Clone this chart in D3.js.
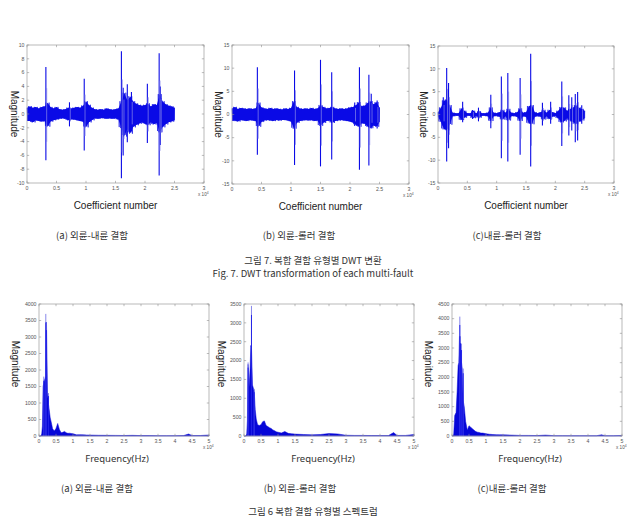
<!DOCTYPE html>
<html><head><meta charset="utf-8">
<script src="https://cdn.jsdelivr.net/npm/d3@7/dist/d3.min.js"></script>
<style>
html,body{margin:0;padding:0;background:#fff;}
svg{display:block;}
</style></head>
<body>
<svg id="chart" width="627" height="518"></svg>
<script>
// ---------------- DATA ----------------
// DWT panels: band envelope sampled every 0.05 (x 10^4 coefficients), 0 .. 2.5
const dwtGrid = [0,0.05,0.1,0.15,0.2,0.25,0.3,0.35,0.4,0.45,0.5,0.55,0.6,0.65,0.7,0.75,0.8,0.85,0.9,0.95,1.0,1.05,1.1,1.15,1.2,1.25,1.3,1.35,1.4,1.45,1.5,1.55,1.6,1.65,1.7,1.75,1.8,1.85,1.9,1.95,2.0,2.05,2.1,2.15,2.2,2.25,2.3,2.35,2.4,2.45,2.5];

const dwtAHi = [0.9,1.1,0.9,1.0,0.8,1.0,1.1,1.6,1.0,0.8,1.0,0.7,0.6,0.7,0.9,0.8,0.9,1.0,0.9,1.2,1.8,1.3,0.9,0.7,0.6,0.7,0.6,0.8,0.7,0.6,0.7,0.8,1.8,3.0,2.0,2.5,1.8,1.5,1.3,1.2,1.3,1.5,1.1,1.4,1.3,2.8,1.8,1.4,1.2,1.1,0.9];
const dwtALo = [-1.0,-1.0,-1.2,-0.9,-1.0,-1.1,-1.0,-1.8,-1.1,-0.9,-0.8,-0.7,-0.6,-0.7,-0.9,-0.8,-0.8,-0.9,-1.0,-1.1,-1.9,-1.2,-0.9,-0.6,-0.7,-0.6,-0.6,-0.7,-0.6,-0.7,-0.6,-0.8,-2.0,-3.2,-2.2,-2.8,-1.9,-1.6,-1.4,-1.2,-1.4,-1.6,-1.2,-1.5,-1.3,-2.6,-1.9,-1.5,-1.2,-1.1,-0.9];
const dwtASpikeX = [0.32,0.72,0.97,1.60,1.63,1.70,1.77,2.04,2.24,2.26];
const dwtASpikeUp = [6.8,1.7,5.1,9.1,3.8,4.3,3.2,4.4,8.8,4.0];
const dwtASpikeDn = [-6.7,-1.8,-5.3,-9.3,-6.0,-4.1,-2.5,-4.2,-8.9,-4.5];

const dwtBHi = [1.3,1.6,1.2,1.4,1.3,1.2,1.3,1.2,1.3,2.5,1.5,1.3,1.2,1.4,1.2,1.3,1.2,1.1,1.3,1.2,1.4,2.8,1.6,1.3,1.2,1.3,1.2,1.4,1.2,1.3,2.0,1.6,1.3,1.4,1.6,1.3,1.2,1.3,1.2,1.3,1.5,1.6,2.0,2.6,1.8,1.9,2.5,2.8,2.2,2.6,1.5];
const dwtBLo = [-1.4,-1.3,-1.5,-1.2,-1.3,-1.4,-1.2,-1.3,-1.4,-2.6,-1.6,-1.3,-1.2,-1.3,-1.4,-1.2,-1.3,-1.2,-1.2,-1.3,-1.5,-3.0,-1.8,-1.4,-1.3,-1.2,-1.3,-1.2,-1.4,-1.3,-2.4,-1.8,-1.4,-1.3,-1.8,-1.4,-1.3,-1.2,-1.3,-1.4,-1.5,-1.7,-2.2,-2.6,-1.9,-2.0,-2.6,-2.9,-2.4,-2.6,-1.6];
const dwtBSpikeX = [0.43,1.06,1.50,1.69,2.08,2.16,2.32,2.36,2.46];
const dwtBSpikeUp = [10.2,9.5,11.8,9.1,2.6,10.2,8.6,4.5,3.0];
const dwtBSpikeDn = [-8.7,-10.9,-11.2,-9.7,-2.5,-11.9,-11.0,-3.0,-3.0];

const dwtCHi = [0.5,1.5,3.0,3.2,2.0,0.4,0.3,0.3,1.3,0.8,0.3,0.3,0.8,0.3,0.7,0.3,0.3,0.4,1.5,0.4,0.3,0.5,1.0,0.4,1.2,0.4,0.3,0.5,1.3,0.4,0.5,1.8,2.0,0.5,0.3,0.5,1.0,0.4,1.0,0.5,0.3,0.8,1.6,1.5,0.8,1.2,1.5,2.0,1.5,1.2,0.8];
const dwtCLo = [-0.5,-1.6,-3.2,-3.4,-2.2,-0.4,-0.3,-0.3,-1.2,-0.7,-0.3,-0.3,-0.8,-0.3,-0.7,-0.3,-0.3,-0.4,-1.4,-0.4,-0.3,-0.5,-1.1,-0.4,-1.3,-0.4,-0.3,-0.5,-1.4,-0.4,-0.5,-1.9,-2.1,-0.5,-0.3,-0.5,-1.1,-0.4,-1.0,-0.5,-0.3,-0.8,-1.7,-1.5,-0.8,-1.3,-1.6,-2.1,-1.6,-1.3,-0.8];
const dwtCSpikeX = [0.09,0.148,0.18,0.42,0.59,0.69,0.90,1.08,1.19,1.40,1.58,1.78,1.92,2.11,2.23,2.28,2.34,2.38,2.45];
const dwtCSpikeUp = [3.8,10.2,6.9,2.8,1.0,1.5,4.3,8.3,9.1,8.0,13.3,2.6,2.8,7.2,4.2,3.8,4.5,4.9,2.0];
const dwtCSpikeDn = [-2.5,-10.3,-7.4,-1.7,-1.0,-1.5,-3.0,-9.6,-10.3,-8.8,-11.4,-2.4,-2.0,-6.9,-4.6,-3.5,-6.1,-5.7,-2.0];

// Spectrum panels: frequency grid (x 10^4 Hz) and magnitude envelope
const specGrid = [0,0.05,0.08,0.1,0.12,0.15,0.18,0.2,0.22,0.25,0.28,0.3,0.33,0.36,0.4,0.45,0.5,0.55,0.6,0.65,0.7,0.75,0.8,0.85,0.9,0.95,1.0,1.1,1.2,1.3,1.4,1.5,1.75,2.0,2.25,2.5,2.75,3.0,3.25,3.5,3.75,4.0,4.25,4.4,4.5,4.75,5.0];
const specA = [0,0,60,300,1500,1650,1750,1800,3450,1300,950,800,550,420,220,150,230,380,200,100,110,140,100,80,85,75,70,35,40,35,30,28,22,20,18,15,20,12,12,10,10,10,12,60,15,15,30];
const specB = [0,0,50,400,1900,1300,1800,2400,2350,1350,1250,1200,700,450,300,280,300,380,400,280,250,220,200,160,140,110,100,80,120,70,60,50,40,30,40,65,55,20,15,15,12,12,12,90,15,15,40];
const specC = [0,50,700,750,800,1500,2400,2500,3400,2500,2500,2300,1200,1000,500,200,350,300,250,200,150,130,120,100,100,90,80,60,50,45,40,40,30,20,20,15,30,12,12,10,10,10,10,40,10,10,20];
const specASpikeX = [0.14,0.2,0.215,0.28], specASpikeY = [1800,3700,3450,1300];
const specBSpikeX = [0.12,0.22,0.3], specBSpikeY = [1950,3450,1250];
const specCSpikeX = [0.23,0.25,0.28,0.33], specCSpikeY = [4070,3400,3150,2300];

const dwtXTicks = [0,0.5,1,1.5,2,2.5,3];
const dwtYTicksA = [-10,-8,-6,-4,-2,0,2,4,6,8,10];
const dwtYTicksBC = [-15,-10,-5,0,5,10,15];
const specXTicks = [0,0.5,1,1.5,2,2.5,3,3.5,4,4.5,5];
const specYTicksA = [0,500,1000,1500,2000,2500,3000,3500,4000];
const specYTicksB = [0,500,1000,1500,2000,2500,3000,3500];
const specYTicksC = [0,500,1000,1500,2000,2500,3000,3500,4000,4500];

const subCaptions = ["(a) 외륜-내륜 결함","(b) 외륜-롤러 결함","(c)내륜-롤러 결함"];
const figTitle7 = "그림 7. 복합 결함 유형별 DWT 변환";
const figTitle7En = "Fig. 7. DWT transformation of each multi-fault";
const figTitle6 = "그림 6 복합 결함 유형별 스펙트럼";

// ---------------- DRAW ----------------
const svg = d3.select("#chart");
const BLUE = "#0a0ae6";
const LIGHT = "#7a7ae8";

function frame(g, x, y, xTicks, yTicks, w, h, fmtX) {
  g.append("rect").attr("x",0).attr("y",0).attr("width",w).attr("height",h)
    .attr("fill","none").attr("stroke","#a8a8a8").attr("stroke-width",0.8);
  const tl = 2.2;
  const tk = g.append("g").attr("stroke","#909090").attr("stroke-width",0.6);
  xTicks.forEach(v => {
    const px = x(v);
    tk.append("line").attr("x1",px).attr("x2",px).attr("y1",h).attr("y2",h-tl);
    tk.append("line").attr("x1",px).attr("x2",px).attr("y1",0).attr("y2",tl);
  });
  yTicks.forEach(v => {
    const py = y(v);
    tk.append("line").attr("x1",0).attr("x2",tl).attr("y1",py).attr("y2",py);
    tk.append("line").attr("x1",w).attr("x2",w-tl).attr("y1",py).attr("y2",py);
  });
  const lab = g.append("g").attr("font-family","Arial, 'Liberation Sans', sans-serif")
    .attr("font-size",5.2).attr("fill","#555");
  xTicks.forEach(v => {
    lab.append("text").attr("x",x(v)).attr("y",h+6.5).attr("text-anchor","middle").text(fmtX(v));
  });
  yTicks.forEach(v => {
    lab.append("text").attr("x",-2.5).attr("y",y(v)+1.8).attr("text-anchor","end").text(v);
  });
  const ex = lab.append("text").attr("x",w-6).attr("y",h+13).attr("font-size",4.6);
  ex.append("tspan").text("x 10");
  ex.append("tspan").attr("dy",-2).attr("font-size",3.4).text("4");
}

function dwtPanel(p) {
  const g = svg.append("g").attr("transform",`translate(${p.l},${p.t})`);
  const x = d3.scaleLinear().domain([0,3]).range([0,p.w]);
  const y = d3.scaleLinear().domain([-p.ymax,p.ymax]).range([p.h,0]);
  // band
  const area = d3.area().x((d,i)=>x(dwtGrid[i])).y0((d,i)=>y(p.lo[i])).y1(d=>y(d));
  g.append("path").datum(p.hi).attr("d",area).attr("fill",BLUE);
  // zigzag texture along the band
  let zz = [];
  dwtGrid.forEach((gx,i)=>{
    if (i < dwtGrid.length-1) {
      const mx = (gx + dwtGrid[i+1]) / 2;
      const mh = Math.max(p.hi[i],p.hi[i+1]), ml = Math.min(p.lo[i],p.lo[i+1]);
      zz.push([x(gx), y(p.hi[i])], [x(mx - 0.012), y(ml*0.95)], [x(mx), y(mh*1.03)], [x(mx+0.012), y(ml*1.02)]);
    } else zz.push([x(gx), y(p.hi[i])],[x(gx), y(p.lo[i])]);
  });
  g.append("path").attr("d",d3.line()(zz)).attr("fill","none").attr("stroke",BLUE).attr("stroke-width",0.6);
  // spikes
  g.selectAll("line.sp").data(p.sx).enter().append("line")
    .attr("x1",d=>x(d)).attr("x2",d=>x(d))
    .attr("y1",(d,i)=>y(p.su[i])).attr("y2",(d,i)=>y(p.sd[i]))
    .attr("stroke",BLUE).attr("stroke-width",1.1);
  g.selectAll("line.sp2").data(p.sx).enter().append("line")
    .attr("x1",d=>x(d)+0.8).attr("x2",d=>x(d)+0.8)
    .attr("y1",(d,i)=>y(p.su[i]*0.55)).attr("y2",(d,i)=>y(p.sd[i]*0.6))
    .attr("stroke",LIGHT).attr("stroke-width",0.8);
  frame(g, x, y, dwtXTicks, p.yt, p.w, p.h, v=>v);
  g.append("text").attr("x",p.w/2).attr("y",p.h+26).attr("text-anchor","middle")
    .attr("font-family","Arial, 'Liberation Sans', sans-serif").attr("font-size",10).attr("fill","#222")
    .text("Coefficient number");
  g.append("text").attr("transform",`translate(${p.ylx},${p.h/2}) rotate(90)`).attr("text-anchor","middle")
    .attr("font-family","Arial, 'Liberation Sans', sans-serif").attr("font-size",10).attr("fill","#222")
    .text("Magnitude");
}

function specPanel(p) {
  const g = svg.append("g").attr("transform",`translate(${p.l},${p.t})`);
  const x = d3.scaleLinear().domain([0,5]).range([0,p.w]);
  const y = d3.scaleLinear().domain([0,p.ymax]).range([p.h,0]);
  const area = d3.area().x((d,i)=>x(specGrid[i])).y0(p.h).y1(d=>y(d));
  g.append("path").datum(p.v).attr("d",area).attr("fill","#0606d8").attr("stroke","#0606d8").attr("stroke-width",0.5);
  g.selectAll("line.sp").data(p.sx).enter().append("line")
    .attr("x1",d=>x(d)).attr("x2",d=>x(d))
    .attr("y1",p.h).attr("y2",(d,i)=>y(p.sy[i]))
    .attr("stroke",LIGHT).attr("stroke-width",0.9);
  g.selectAll("line.sp2").data(p.sx).enter().append("line")
    .attr("x1",d=>x(d)).attr("x2",d=>x(d))
    .attr("y1",p.h).attr("y2",(d,i)=>y(p.sy[i]*0.93))
    .attr("stroke",BLUE).attr("stroke-width",0.8);
  frame(g, x, y, specXTicks, p.yt, p.w, p.h, v=>v);
  g.append("text").attr("x",p.w/2+p.xlo).attr("y",p.h+26).attr("text-anchor","middle")
    .attr("font-family","'Noto Sans', Arial, sans-serif").attr("font-size",9.5).attr("fill","#333")
    .text("Frequency(Hz)");
  g.append("text").attr("transform",`translate(${p.ylx},${p.h/2-6}) rotate(90)`).attr("text-anchor","middle")
    .attr("font-family","Arial, 'Liberation Sans', sans-serif").attr("font-size",10).attr("fill","#222")
    .text("Magnitude");
}

dwtPanel({l:27,t:45,w:177,h:138,ymax:10,hi:dwtAHi,lo:dwtALo,sx:dwtASpikeX,su:dwtASpikeUp,sd:dwtASpikeDn,yt:dwtYTicksA,ylx:-16});
dwtPanel({l:232,t:45,w:177,h:139,ymax:15,hi:dwtBHi,lo:dwtBLo,sx:dwtBSpikeX,su:dwtBSpikeUp,sd:dwtBSpikeDn,yt:dwtYTicksBC,ylx:-17});
dwtPanel({l:438,t:46,w:176,h:137,ymax:15,hi:dwtCHi,lo:dwtCLo,sx:dwtCSpikeX,su:dwtCSpikeUp,sd:dwtCSpikeDn,yt:dwtYTicksBC,ylx:-18});

specPanel({l:39,t:304,w:170,h:132,ymax:4000,v:specA,sx:specASpikeX,sy:specASpikeY,yt:specYTicksA,ylx:-27,xlo:-7});
specPanel({l:244,t:304,w:170,h:132,ymax:3500,v:specB,sx:specBSpikeX,sy:specBSpikeY,yt:specYTicksB,ylx:-26,xlo:-6});
specPanel({l:452,t:304,w:170,h:132,ymax:4500,v:specC,sx:specCSpikeX,sy:specCSpikeY,yt:specYTicksC,ylx:-27,xlo:-7});

const kfont = "'Noto Sans CJK KR', 'Noto Sans', sans-serif";
const capX = [92,299,507], capX2 = [97,300,512];
subCaptions.forEach((t,i)=>{
  svg.append("text").attr("x",capX[i]).attr("y",239).attr("text-anchor","middle")
    .attr("font-family",kfont).attr("font-size",9.5).attr("fill","#333").text(t);
  svg.append("text").attr("x",capX2[i]).attr("y",492).attr("text-anchor","middle")
    .attr("font-family",kfont).attr("font-size",9.5).attr("fill","#333").text(t);
});
svg.append("text").attr("x",313).attr("y",264).attr("text-anchor","middle")
  .attr("font-family",kfont).attr("font-size",9.5).attr("fill","#333").text(figTitle7);
svg.append("text").attr("x",313).attr("y",277).attr("text-anchor","middle")
  .attr("font-family",kfont).attr("font-size",9.5).attr("fill","#333").text(figTitle7En);
svg.append("text").attr("x",313).attr("y",515).attr("text-anchor","middle")
  .attr("font-family",kfont).attr("font-size",9.5).attr("fill","#333").text(figTitle6);
</script>
</body></html>
